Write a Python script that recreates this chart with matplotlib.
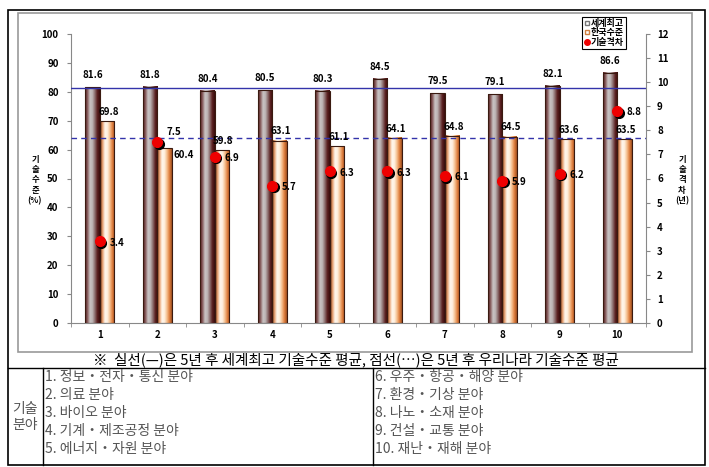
import numpy as np
import matplotlib
matplotlib.use('Agg')
import matplotlib.pyplot as plt
from matplotlib.colors import LinearSegmentedColormap
from matplotlib.lines import Line2D
from matplotlib.patches import Rectangle
from matplotlib.transforms import offset_copy

plt.rcParams['font.family'] = ['Noto Sans CJK KR', 'DejaVu Sans']

# 데이터
categories = ['1', '2', '3', '4', '5', '6', '7', '8', '9', '10']
world_best = [81.6, 81.8, 80.4, 80.5, 80.3, 84.5, 79.5, 79.1, 82.1, 86.6]
korea_level = [69.8, 60.4, 59.8, 63.1, 61.1, 64.1, 64.8, 64.5, 63.6, 63.5]
tech_gap = [3.4, 7.5, 6.9, 5.7, 6.3, 6.3, 6.1, 5.9, 6.2, 8.8]
world_avg = 81.3   # 실선
korea_avg = 64.0   # 점선
series_names = ['세계최고', '한국수준', '기술격차']
fields_left = ['1. 정보・전자・통신 분야', '2. 의료 분야', '3. 바이오 분야',
               '4. 기계・제조공정 분야', '5. 에너지・자원 분야']
fields_right = ['6. 우주・항공・해양 분야', '7. 환경・기상 분야', '8. 나노・소재 분야',
                '9. 건설・교통 분야', '10. 재난・재해 분야']
caption = '※  실선(—)은 5년 후 세계최고 기술수준 평균, 점선(…)은 5년 후 우리나라 기술수준 평균'

W, H = 709, 467
fig = plt.figure(figsize=(W / 100, H / 100), dpi=100)

def fx(px):
    return px / W

def fy(py):
    return 1 - py / H

# 바깥 틀과 표
fig.add_artist(Rectangle((fx(8), fy(465)), fx(705) - fx(8), fy(10) - fy(465),
                         transform=fig.transFigure, fill=False, edgecolor='black', lw=1.2))
fig.add_artist(Rectangle((fx(18), fy(352)), fx(692) - fx(18), fy(13) - fy(352),
                         transform=fig.transFigure, fill=False, edgecolor='#999999', lw=1.2))
fig.add_artist(Line2D([fx(8), fx(705)], [fy(368), fy(368)], transform=fig.transFigure,
                      color='black', lw=1))
fig.add_artist(Line2D([fx(43), fx(43)], [fy(368), fy(465)], transform=fig.transFigure,
                      color='black', lw=1))
fig.add_artist(Line2D([fx(373), fx(373)], [fy(368), fy(465)], transform=fig.transFigure,
                      color='black', lw=1))

fig.text(fx(356), fy(360), caption, ha='center', va='center', fontsize=10.5,
         color='black')
fig.text(fx(25), fy(417), '기술\n분야', ha='center', va='center', fontsize=10,
         color='#555555', linespacing=1.15)
row_y = [377, 395, 413, 431, 449]
for i in range(5):
    fig.text(fx(45), fy(row_y[i]), fields_left[i], ha='left', va='center',
             fontsize=10, color='#555555')
    fig.text(fx(375), fy(row_y[i]), fields_right[i], ha='left', va='center',
             fontsize=10, color='#555555')

# 차트
ax = fig.add_axes([fx(71), fy(323), fx(646) - fx(71), fy(34) - fy(323)])
ax.patch.set_alpha(0)
x = np.arange(1, len(categories) + 1)
bw = 0.25

cmap_world = LinearSegmentedColormap.from_list(
    'w', ['#4e1a1a', '#8a6060', '#c9c3c3', '#bdb5b5', '#8c6c6c', '#5a2020', '#3a0c0c'])
cmap_korea = LinearSegmentedColormap.from_list(
    'k', ['#6e3010', '#e8a070', '#fff6ec', '#fff0e0', '#f5c090', '#e08040', '#a05020'])
grad = np.linspace(0, 1, 64).reshape(1, -1)

for i in range(len(x)):
    for val, off, cm in [(world_best[i], -bw / 2, cmap_world), (korea_level[i], bw / 2, cmap_korea)]:
        x0 = x[i] + off - bw / 2
        ax.imshow(grad, cmap=cm, aspect='auto', extent=[x0, x0 + bw, 0, val],
                  zorder=2, interpolation='bilinear')
        ax.add_patch(Rectangle((x0, 0), bw, val, fill=False, edgecolor='#3a1a10',
                               lw=0.8, zorder=3))

ax.axhline(world_avg, color='#3333aa', lw=1, zorder=4)
ax.axhline(korea_avg, color='#3333aa', lw=1, ls=(0, (4, 3)), zorder=4)

for i in range(len(x)):
    ax.annotate(f'{world_best[i]:.1f}', (x[i] - bw / 2, world_best[i]), xytext=(0, 5),
                textcoords='offset points', ha='center', va='bottom',
                fontsize=7, fontweight='bold', zorder=6)
    if i == 1:
        ax.annotate(f'{korea_level[i]:.1f}', (x[i] + bw, korea_level[i]), xytext=(1, -1),
                    textcoords='offset points', ha='left', va='top',
                    fontsize=7, fontweight='bold', zorder=6)
    else:
        ax.annotate(f'{korea_level[i]:.1f}', (x[i] + bw / 2, korea_level[i]), xytext=(1, 3),
                    textcoords='offset points', ha='center', va='bottom',
                    fontsize=7, fontweight='bold', zorder=6)

ax.set_xlim(0.5, len(x) + 0.5)
ax.set_ylim(0, 100)
ax.set_yticks(np.arange(0, 101, 10))
ax.set_xticks(x)
ax.set_xticklabels(categories, fontsize=7, fontweight='bold')
ax.set_xticks(np.arange(0.5, len(x) + 1, 1), minor=True)
ax.tick_params(axis='x', which='major', length=0, pad=5)
ax.tick_params(axis='x', which='minor', length=3, color='#888888', direction='out')
ax.tick_params(axis='y', length=3, color='#888888', labelsize=7, pad=6)
for t in ax.get_yticklabels():
    t.set_fontweight('bold')
for s in ['top', 'right']:
    ax.spines[s].set_visible(False)
for s in ['left', 'bottom']:
    ax.spines[s].set_color('#888888')

ax2 = ax.twinx()
ax2.set_ylim(0, 12)
ax2.set_yticks(np.arange(0, 13, 1))
ax2.tick_params(axis='y', length=3, color='#888888', labelsize=7, pad=5)
for t in ax2.get_yticklabels():
    t.set_fontweight('bold')
for s in ['top', 'left', 'bottom']:
    ax2.spines[s].set_visible(False)
ax2.spines['right'].set_color('#888888')

shadow = offset_copy(ax2.transData, fig=fig, x=1.5, y=-1.5, units='dots')
ax2.plot(x, tech_gap, 'o', color='black', ms=7, transform=shadow, zorder=7)
ax2.plot(x, tech_gap, 'o', color='#ee0000', ms=7, mec='#ee0000', zorder=8)
for i in range(len(x)):
    if i == 1:
        ax2.annotate(f'{tech_gap[i]:.1f}', (x[i], tech_gap[i]), xytext=(7, 4),
                     textcoords='offset points', ha='left', va='bottom',
                     fontsize=7, fontweight='bold', zorder=9)
    else:
        ax2.annotate(f'{tech_gap[i]:.1f}', (x[i], tech_gap[i]), xytext=(7, -1),
                     textcoords='offset points', ha='left', va='center',
                     fontsize=7, fontweight='bold', zorder=9)

fig.text(fx(35), fy(180), '기\n술\n수\n준\n(%)', ha='center', va='center',
         fontsize=6, fontweight='bold', linespacing=1.2)
fig.text(fx(682), fy(180), '기\n술\n격\n차\n(년)', ha='center', va='center',
         fontsize=6, fontweight='bold', linespacing=1.2)

handles = [Line2D([], [], marker='s', ls='', ms=3, mfc='white', mec='#777777'),
           Line2D([], [], marker='s', ls='', ms=3, mfc='white', mec='#d08040'),
           Line2D([], [], marker='o', ls='', ms=4, mfc='#ee0000', mec='#ee0000')]
leg = fig.legend(handles, series_names, loc='upper left',
                 bbox_to_anchor=(fx(582), fy(17)), frameon=True, fancybox=False,
                 edgecolor='black', framealpha=1, fontsize=6.5, handlelength=0.6,
                 handletextpad=0.2, labelspacing=0.05, borderpad=0.2, borderaxespad=0)
leg.get_frame().set_linewidth(0.8)
for t in leg.get_texts():
    t.set_fontweight('bold')

fig.savefig('out.png', dpi=100)
